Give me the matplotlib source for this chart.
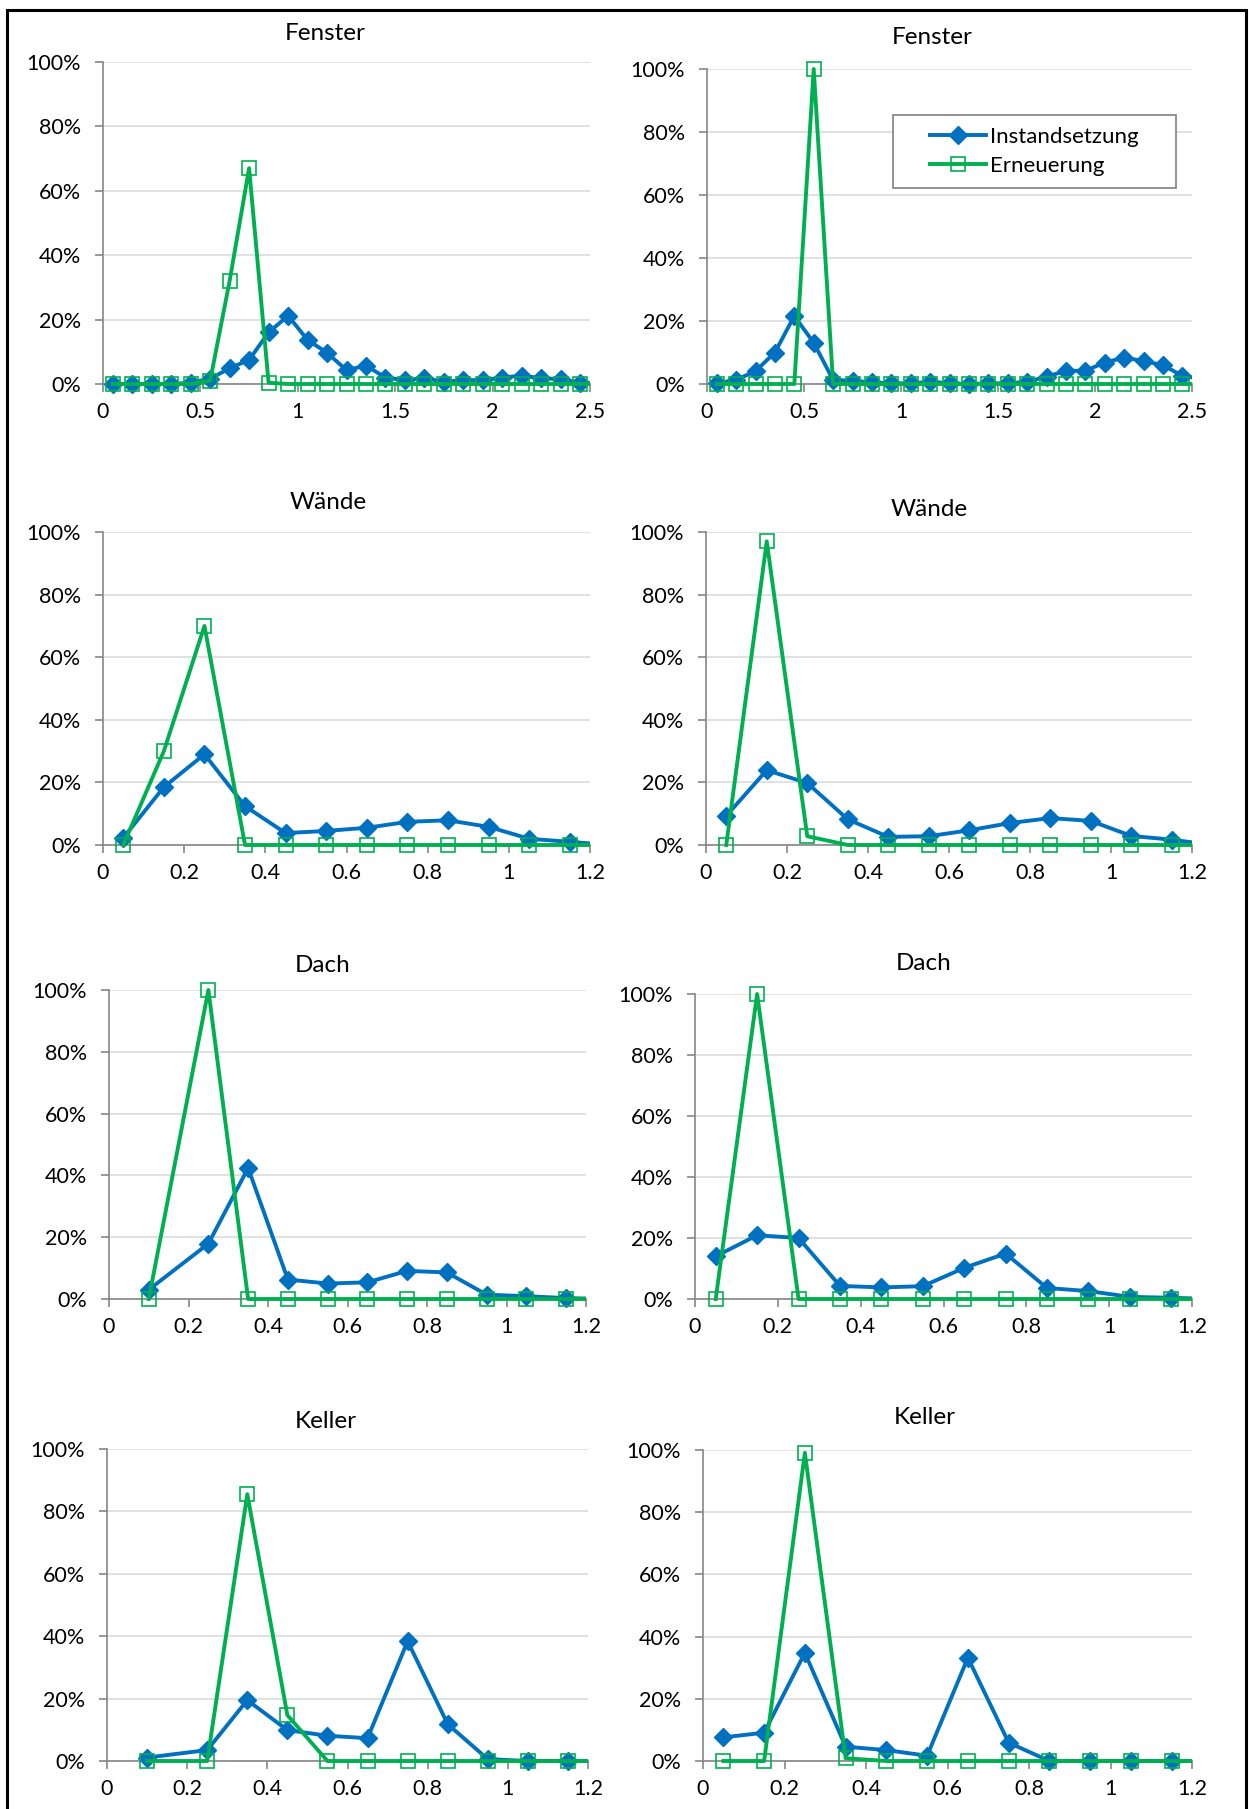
import matplotlib
matplotlib.use('Agg')
import matplotlib.pyplot as plt
import matplotlib.patches as mpatches
from matplotlib.lines import Line2D
from matplotlib.ticker import PercentFormatter, FuncFormatter, MultipleLocator
from matplotlib.transforms import Bbox, TransformedBbox

plt.rcParams['font.family'] = ['Lato', 'DejaVu Sans']

# x positions (class centres), last value lies outside the axis and is clipped
x_fenster = [0.05, 0.15, 0.25, 0.35, 0.45, 0.55, 0.65, 0.75, 0.85, 0.95,
             1.05, 1.15, 1.25, 1.35, 1.45, 1.55, 1.65, 1.75, 1.85, 1.95,
             2.05, 2.15, 2.25, 2.35, 2.45, 2.55]
x_small = [0.05, 0.15, 0.25, 0.35, 0.45, 0.55, 0.65, 0.75, 0.85, 0.95, 1.05, 1.15, 1.25]
x_small_b = [0.1, 0.25, 0.35, 0.45, 0.55, 0.65, 0.75, 0.85, 0.95, 1.05, 1.15, 1.25]

# values in percent
fenster_a_inst = [0, 0, 0, 0, 0.4, 1.6, 4.9, 7.5, 16, 21.2, 13.7, 9.7, 4.3, 5.7, 2.0,
                  1.2, 1.8, 0.7, 1.2, 1.2, 2.0, 2.6, 1.8, 1.5, 0.4, 0.2]
fenster_a_ern = [0, 0, 0, 0, 0, 1.0, 32, 67, 0.4, 0, 0, 0, 0, 0, 0,
                 0, 0, 0, 0, 0, 0, 0, 0, 0, 0, 0]
fenster_b_inst = [0.2, 1.3, 4.1, 10, 21.6, 13.1, 1.3, 1.0, 0.5, 0.2, 0.2, 0.7, 0.2, 0, 0.2,
                  0.2, 0.7, 2.3, 4.2, 4.2, 6.8, 8.4, 7.3, 6.0, 2.6, 1.6]
fenster_b_ern = [0, 0, 0, 0, 0, 100, 0, 0, 0, 0, 0, 0, 0, 0, 0,
                 0, 0, 0, 0, 0, 0, 0, 0, 0, 0, 0]

waende_a_inst = [2.3, 18.5, 29, 12.4, 3.8, 4.5, 5.5, 7.4, 7.9, 5.8, 2.0, 1.0, 0]
waende_a_ern = [0, 30, 70, 0, 0, 0, 0, 0, 0, 0, 0, 0, 0]
waende_b_inst = [9.3, 23.9, 19.8, 8.2, 2.6, 2.8, 4.7, 7.0, 8.6, 7.7, 2.9, 1.7, 0]
waende_b_ern = [0, 97, 2.8, 0, 0, 0, 0, 0, 0, 0, 0, 0, 0]

dach_a_inst = [3.0, 17.9, 42.4, 6.3, 5.0, 5.4, 9.1, 8.6, 1.4, 0.9, 0.3, 0]
dach_a_ern = [0, 100, 0, 0, 0, 0, 0, 0, 0, 0, 0, 0]
dach_b_inst = [14.0, 20.9, 20.0, 4.3, 3.8, 4.2, 10.2, 14.9, 3.6, 2.6, 0.7, 0.4, 0]
dach_b_ern = [0, 100, 0, 0, 0, 0, 0, 0, 0, 0, 0, 0, 0]

keller_a_inst = [1.1, 3.5, 19.5, 9.9, 8.1, 7.3, 38.4, 11.8, 0.6, 0, 0, 0]
keller_a_ern = [0, 0, 85.5, 14.7, 0, 0, 0, 0, 0, 0, 0, 0]
keller_b_inst = [7.6, 9.1, 34.8, 4.6, 3.5, 1.7, 33.2, 5.9, 0, 0, 0, 0, 0]
keller_b_ern = [0, 0, 99.1, 0.9, 0, 0, 0, 0, 0, 0, 0, 0, 0]

titles = ['Fenster', 'Fenster', 'Wände', 'Wände', 'Dach', 'Dach', 'Keller', 'Keller']
series = [
    (x_fenster, fenster_a_inst, fenster_a_ern, 2.5, 0.5),
    (x_fenster, fenster_b_inst, fenster_b_ern, 2.5, 0.5),
    (x_small, waende_a_inst, waende_a_ern, 1.2, 0.2),
    (x_small, waende_b_inst, waende_b_ern, 1.2, 0.2),
    (x_small_b, dach_a_inst, dach_a_ern, 1.2, 0.2),
    (x_small, dach_b_inst, dach_b_ern, 1.2, 0.2),
    (x_small_b, keller_a_inst, keller_a_ern, 1.2, 0.2),
    (x_small, keller_b_inst, keller_b_ern, 1.2, 0.2),
]

W, H = 1249, 1809
# plot areas in pixels: left, top, right, bottom
rects = [(103, 62, 590, 384), (707, 69, 1192, 384),
         (103, 532, 590, 845), (706, 532, 1192, 845),
         (109, 990, 586, 1299), (695, 994, 1192, 1299),
         (107, 1449, 588, 1761), (703, 1450, 1192, 1761)]
title_pos = [(325, 33), (932, 37), (328, 502), (929, 509),
             (323, 965), (924, 963), (326, 1422), (925, 1417)]

BLUE = '#0070C0'
GREEN = '#00B050'
AXCOL = '#868686'
GRID = '#D9D9D9'
LW = 2.8

fig = plt.figure(figsize=(W / 100, H / 100), dpi=100)

for i in range(8):
    l, t, r, b = rects[i]
    ax = fig.add_axes([l / W, 1 - b / H, (r - l) / W, (b - t) / H])
    x, inst, ern, xmax, xstep = series[i]

    ax.set_xlim(0, xmax)
    ax.set_ylim(0, 100)
    ax.yaxis.set_major_locator(MultipleLocator(20))
    ax.yaxis.set_major_formatter(PercentFormatter(100, decimals=0))
    ax.xaxis.set_major_locator(MultipleLocator(xstep))
    ax.xaxis.set_major_formatter(FuncFormatter(lambda v, p: '%g' % round(v, 2)))
    ax.grid(axis='y', color=GRID, linewidth=1.1, zorder=0)
    ax.set_axisbelow(True)

    for s in ['top', 'right']:
        ax.spines[s].set_visible(False)
    for s in ['left', 'bottom']:
        ax.spines[s].set_color(AXCOL)
        ax.spines[s].set_linewidth(1.2)
    ax.tick_params(axis='both', colors=AXCOL, labelcolor='black', labelsize=15.5,
                   direction='out', length=6, width=1.2)
    ax.tick_params(axis='y', pad=10)
    ax.tick_params(axis='x', pad=7)

    # clip only left/right so that peak markers at 100% stay visible
    clip = TransformedBbox(Bbox([[0, -0.1], [1, 1.1]]), ax.transAxes)
    l1, = ax.plot(x, inst, color=BLUE, lw=LW, marker='D', markersize=9,
                  markerfacecolor=BLUE, markeredgecolor=BLUE, zorder=3)
    l2, = ax.plot(x, ern, color=GREEN, lw=LW, marker='s', markersize=10.5,
                  markerfacecolor='none', markeredgecolor=GREEN,
                  markeredgewidth=1.2, zorder=4)
    for ln in (l1, l2):
        ln.set_clip_box(clip)

    tx, ty = title_pos[i]
    fig.text(tx / W, 1 - ty / H, titles[i], ha='center', va='center', fontsize=17.5)

# legend in the second panel
lx0, ly0, lx1, ly1 = 893, 115, 1176, 188
fig.patches.append(mpatches.Rectangle((lx0 / W, 1 - ly1 / H), (lx1 - lx0) / W, (ly1 - ly0) / H,
                                      transform=fig.transFigure, fill=True, facecolor='white',
                                      edgecolor='#808080', linewidth=1.2, zorder=5))
handles = [Line2D([], [], color=BLUE, lw=LW, marker='D', markersize=9),
           Line2D([], [], color=GREEN, lw=LW, marker='s', markersize=10.5,
                  markerfacecolor='none', markeredgewidth=1.2)]
leg = fig.legend(handles, ['Instandsetzung', 'Erneuerung'], loc='center',
                 bbox_to_anchor=((lx0 + lx1) / 2 / W, 1 - (ly0 + ly1) / 2 / H),
                 frameon=False, fontsize=16, handlelength=2.5, handletextpad=0.2,
                 labelspacing=0.4, borderpad=0)
leg.set_zorder(6)

# outer frame
fig.patches.append(mpatches.Rectangle((7 / W, -0.01), (1246 - 7) / W, 1.01 - 10 / H,
                                      transform=fig.transFigure, fill=False,
                                      edgecolor='black', linewidth=2.2))

plt.savefig('out.png', dpi=100)
